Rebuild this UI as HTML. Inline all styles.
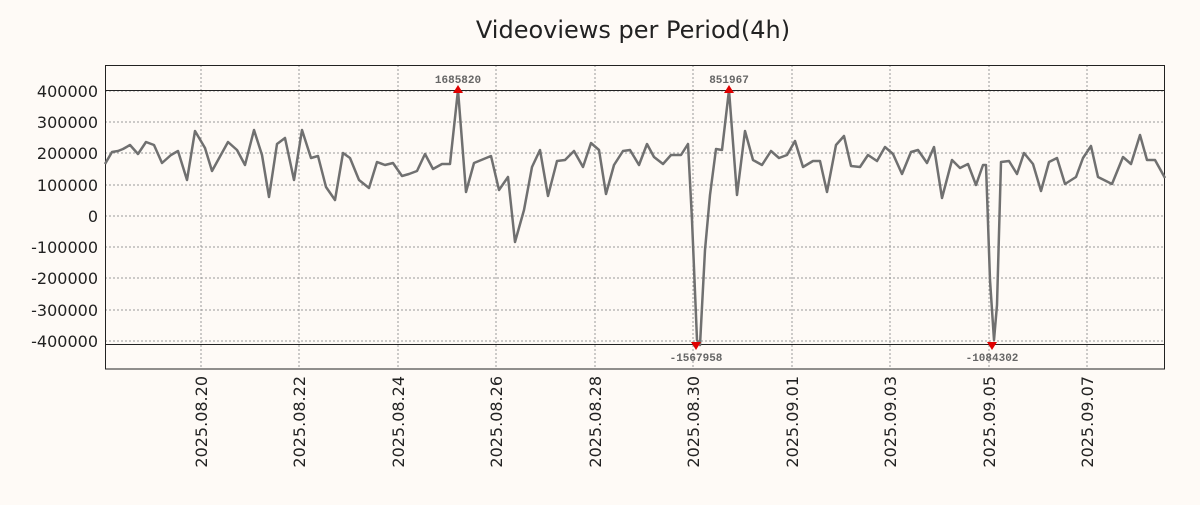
<!DOCTYPE html>
<html><head><meta charset="utf-8"><style>body{margin:0;background:#fefaf6}</style></head><body>
<svg width="1200" height="500" xmlns="http://www.w3.org/2000/svg" font-family="DejaVu Sans, sans-serif">
<rect width="1200" height="500" fill="#fefaf6"/>
<text x="633" y="38" font-size="24" text-anchor="middle" fill="#222">Videoviews per Period(4h)</text>
<g stroke="#999" stroke-dasharray="2,2" stroke-width="1">
<line x1="105" x2="1164" y1="91" y2="91"/><line x1="105" x2="1164" y1="122" y2="122"/><line x1="105" x2="1164" y1="153" y2="153"/><line x1="105" x2="1164" y1="185" y2="185"/><line x1="105" x2="1164" y1="216" y2="216"/><line x1="105" x2="1164" y1="247" y2="247"/><line x1="105" x2="1164" y1="278" y2="278"/><line x1="105" x2="1164" y1="310" y2="310"/><line x1="105" x2="1164" y1="341" y2="341"/>
<line x1="201" x2="201" y1="65" y2="369"/><line x1="299" x2="299" y1="65" y2="369"/><line x1="398" x2="398" y1="65" y2="369"/><line x1="496" x2="496" y1="65" y2="369"/><line x1="595" x2="595" y1="65" y2="369"/><line x1="693" x2="693" y1="65" y2="369"/><line x1="792" x2="792" y1="65" y2="369"/><line x1="890" x2="890" y1="65" y2="369"/><line x1="989" x2="989" y1="65" y2="369"/><line x1="1087" x2="1087" y1="65" y2="369"/>
</g>
<line x1="105" x2="1164" y1="90.5" y2="90.5" stroke="#222"/>
<line x1="105" x2="1164" y1="344.5" y2="344.5" stroke="#222"/>
<rect x="105.5" y="65.5" width="1059" height="303.5" fill="none" stroke="#222"/>
<polyline fill="none" stroke="#707070" stroke-width="2.5" stroke-linejoin="round" points="105,164 112,152 118,151 123,149 130,145 138,154 146,142 154,145 162,163 171,155 178,151 187,180 195,131 205,148 212,171 228,142 237,150 245,165 254,130 262,155 269,197 277,144 285,138 294,180 302,130 311,158 318,156 326,187 335,200 343,153 350,158 359,180 369,188 377,162 385,165 393,163 402,176 409,174 417,171 425,154 433,169 442,164 450,164 458,90 466,192 474,163 491,156 499,190 508,177 515,242 524,210 532,167 540,150 548,196 557,161 565,160 574,151 583,167 591,143 599,150 606,194 614,165 623,151 630,150 639,165 647,144 654,157 663,164 671,155 681,155 688,144 692,220 697,340 700,345 705,250 710,195 716,149 722,150 729,90 737,195 745,131 753,160 762,165 771,151 779,158 787,155 795,141 803,167 813,161 820,161 827,192 836,145 844,136 851,166 860,167 868,155 877,161 885,147 893,154 902,174 911,152 918,150 927,163 934,147 942,198 952,160 960,168 968,164 976,185 983,165 986,165 990,280 994,340 997,305 1001,162 1009,161 1017,174 1024,153 1033,164 1041,191 1049,162 1057,158 1065,184 1076,177 1083,158 1091,146 1098,177 1112,184 1123,157 1131,164 1140,135 1147,160 1155,160 1165,178"/>
<g fill="#e00000">
<polygon points="453,93 463,93 458,85"/><polygon points="724,93 734,93 729,85"/>
<polygon points="691,342 701,342 696,350"/><polygon points="987,342 997,342 992,350"/>
</g>
<g font-family="Liberation Mono, monospace" font-size="11" font-weight="bold" fill="#666" text-anchor="middle">
<text x="458" y="83">1685820</text><text x="729" y="83">851967</text>
<text x="696" y="361">-1567958</text><text x="992" y="361">-1084302</text>
</g>
<g font-size="16" fill="#222" text-anchor="end">
<text x="98" y="97">400000</text><text x="98" y="128">300000</text><text x="98" y="159">200000</text><text x="98" y="191">100000</text><text x="98" y="222">0</text><text x="98" y="253">-100000</text><text x="98" y="284">-200000</text><text x="98" y="316">-300000</text><text x="98" y="347">-400000</text>
</g>
<g font-size="16" fill="#222" text-anchor="end">
<text transform="translate(207,376) rotate(-90)">2025.08.20</text>
<text transform="translate(305,376) rotate(-90)">2025.08.22</text>
<text transform="translate(404,376) rotate(-90)">2025.08.24</text>
<text transform="translate(502,376) rotate(-90)">2025.08.26</text>
<text transform="translate(601,376) rotate(-90)">2025.08.28</text>
<text transform="translate(699,376) rotate(-90)">2025.08.30</text>
<text transform="translate(798,376) rotate(-90)">2025.09.01</text>
<text transform="translate(896,376) rotate(-90)">2025.09.03</text>
<text transform="translate(995,376) rotate(-90)">2025.09.05</text>
<text transform="translate(1093,376) rotate(-90)">2025.09.07</text>
</g>
</svg>
</body></html>
